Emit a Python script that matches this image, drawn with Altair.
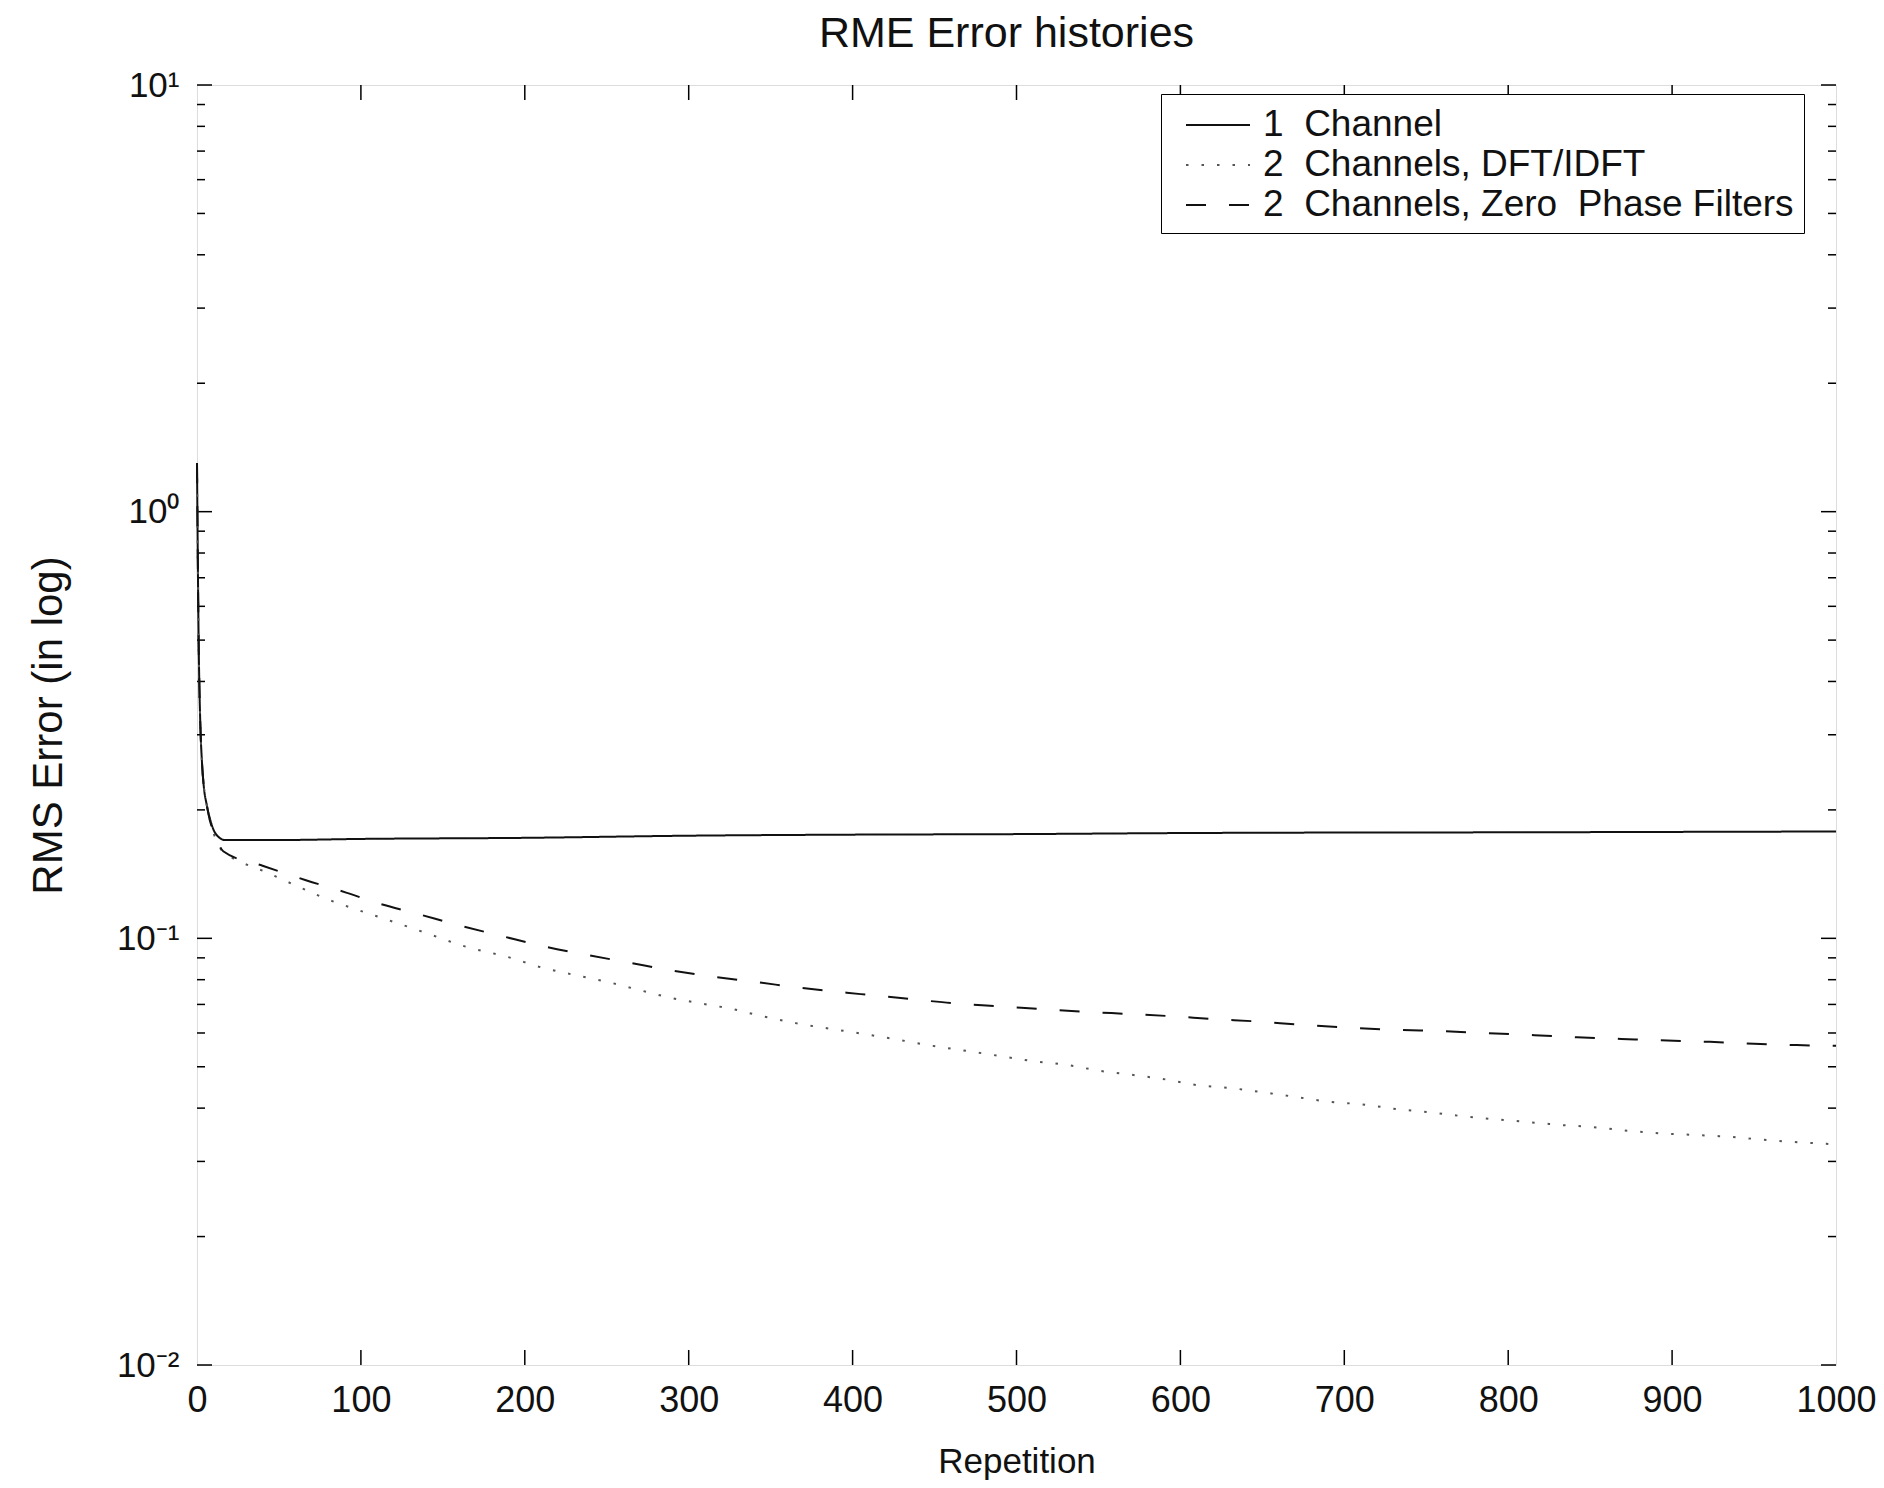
import altair as alt
import pandas as pd

title_text = "RME Error histories"
x_title = "Repetition"
y_title = "RMS Error (in log)"
series_names = [
    "1\u00a0 Channel",
    "2\u00a0 Channels, DFT/IDFT",
    "2\u00a0 Channels, Zero\u00a0 Phase Filters",
]

# 1 Channel
rep_one = [0, 1, 2, 3, 4, 6, 8, 10, 13, 17, 50, 100, 200, 300, 400, 500, 600, 700, 800, 900, 1000]
rms_one = [1.3, 0.5, 0.32, 0.26, 0.23, 0.205, 0.19, 0.18, 0.173, 0.170, 0.170, 0.171, 0.172,
           0.174, 0.175, 0.1755, 0.1765, 0.177, 0.1772, 0.1776, 0.178]

# 2 Channels, DFT/IDFT (dotted)
rep_dft = [0, 1, 2, 3, 4, 6, 8, 10, 13, 16, 22, 42, 61, 79, 98, 123, 143, 162, 191, 210, 230,
           250, 269, 288, 308, 328, 337, 366, 397, 423, 451, 472, 491, 511, 531, 551, 570, 591,
           610, 630, 650, 670, 691, 711, 732, 752, 772, 812, 833, 852, 873, 894, 914, 933, 965,
           994, 1000]
rms_dft = [1.3, 0.5, 0.32, 0.26, 0.23, 0.205, 0.188, 0.177, 0.166, 0.159, 0.154, 0.143, 0.1326,
           0.1237, 0.1166, 0.1083, 0.1019, 0.0961, 0.0901, 0.0855, 0.0821, 0.0791, 0.0758,
           0.0727, 0.0703, 0.0681, 0.0668, 0.0632, 0.0605, 0.0583, 0.0558, 0.0543, 0.0529,
           0.0515, 0.0505, 0.0489, 0.0479, 0.0467, 0.0453, 0.0446, 0.0436, 0.0425, 0.0414,
           0.0408, 0.0398, 0.0391, 0.0383, 0.0371, 0.0365, 0.0361, 0.0354, 0.0349, 0.0346,
           0.0343, 0.0335, 0.033, 0.0329]

# 2 Channels, Zero Phase Filters (dashed)
rep_zpf = [0, 1, 2, 3, 4, 6, 8, 10, 13, 16, 40, 66, 91, 110, 135, 161, 187, 212, 239, 265, 291,
           317, 343, 369, 405, 435, 462, 488, 515, 541, 568, 594, 620, 648, 672, 704, 735, 761,
           788, 816, 842, 869, 897, 923, 950, 976, 1000]
rms_zpf = [1.3, 0.5, 0.32, 0.26, 0.23, 0.205, 0.188, 0.178, 0.167, 0.160, 0.148, 0.137, 0.128,
           0.121, 0.114, 0.107, 0.101, 0.0957, 0.0913, 0.0875, 0.0839, 0.0811, 0.0788, 0.0765,
           0.074, 0.0721, 0.0704, 0.0693, 0.0683, 0.0673, 0.0665, 0.0657, 0.0647, 0.0638,
           0.0628, 0.0617, 0.061, 0.0606, 0.0599, 0.0593, 0.0586, 0.0581, 0.0576, 0.0572,
           0.0566, 0.0562, 0.056]

x_tick_values = [0, 100, 200, 300, 400, 500, 600, 700, 800, 900, 1000]
x_inner_ticks = [100, 200, 300, 400, 500, 600, 700, 800, 900]
y_major = [0.01, 0.1, 1, 10]
y_minor = [k * m for m in (0.01, 0.1, 1) for k in range(2, 10)]

W, H = 1639, 1280
FONT = "Liberation Sans"
INK = "#111111"

frames = []
for name, reps, vals in [(series_names[0], rep_one, rms_one),
                         (series_names[1], rep_dft, rms_dft),
                         (series_names[2], rep_zpf, rms_zpf)]:
    frames.append(pd.DataFrame({"rep": reps, "rms": vals, "series": name}))
df = pd.concat(frames, ignore_index=True)

xs = alt.Scale(domain=[0, 1000], nice=False, zero=False)
ys = alt.Scale(type="log", domain=[0.01, 10], nice=False)

ax_x = alt.Axis(values=x_tick_values, format="d", ticks=False, domain=False, grid=False,
                labelFlush=False, labelFontSize=36, labelFont=FONT, labelColor=INK,
                labelPadding=18,
                title=x_title, titleFontSize=35, titleFont=FONT, titleColor=INK,
                titleFontWeight="normal", titlePadding=26)
ax_y = alt.Axis(values=y_major, ticks=False, domain=False, grid=False,
                labelExpr="datum.value >= 5 ? '10¹' : datum.value >= 0.5 ? '10⁰' : datum.value >= 0.05 ? '10⁻¹' : '10⁻²'",
                labelFontSize=35, labelFont=FONT, labelColor=INK, labelPadding=18,
                title=y_title, titleFontSize=42, titleFont=FONT, titleColor=INK,
                titleFontWeight="normal", titlePadding=46)

x_enc = alt.X("rep:Q", scale=xs, axis=ax_x)
y_enc = alt.Y("rms:Q", scale=ys, axis=ax_y)

leg = alt.Legend(title=None, orient="none", legendX=964, legendY=9,
                 symbolType="M-1.6,0L1.6,0", symbolSize=1600, symbolStrokeWidth=2,
                 symbolOffset=26, labelOffset=24, labelFontSize=37, labelFont=FONT,
                 labelColor=INK, labelLimit=900, rowPadding=1, padding=10,
                 strokeColor="black", fillColor="white",
                 symbolFillColor="transparent")

lines = alt.Chart(df).mark_line(interpolate="monotone", strokeWidth=2).encode(
    x=x_enc,
    y=y_enc,
    color=alt.Color("series:N", sort=series_names,
                    scale=alt.Scale(domain=series_names, range=[INK, "#555555", INK]),
                    legend=leg),
    strokeDash=alt.StrokeDash("series:N", sort=series_names,
                              scale=alt.Scale(domain=series_names,
                                              range=[[1, 0], [2.5, 13], [20, 23]]),
                              legend=leg),
)

xt = pd.DataFrame({"rep": x_inner_ticks})
ymaj = pd.DataFrame({"rms": y_major})
ymin = pd.DataFrame({"rms": y_minor})

rule = dict(color="black", strokeWidth=1.5)
x_bottom = alt.Chart(xt).mark_rule(**rule).encode(x=x_enc, y=alt.value(H), y2=alt.value(H - 15))
x_top = alt.Chart(xt).mark_rule(**rule).encode(x=x_enc, y=alt.value(0), y2=alt.value(15))
y_left_maj = alt.Chart(ymaj).mark_rule(**rule).encode(y=y_enc, x=alt.value(0), x2=alt.value(15))
y_right_maj = alt.Chart(ymaj).mark_rule(**rule).encode(y=y_enc, x=alt.value(W), x2=alt.value(W - 15))
y_left_min = alt.Chart(ymin).mark_rule(**rule).encode(y=y_enc, x=alt.value(0), x2=alt.value(8))
y_right_min = alt.Chart(ymin).mark_rule(**rule).encode(y=y_enc, x=alt.value(W), x2=alt.value(W - 8))

chart = alt.layer(
    x_bottom, x_top, y_left_maj, y_right_maj, y_left_min, y_right_min, lines
).properties(
    width=W,
    height=H,
    title=alt.Title(title_text, fontSize=43, font=FONT, fontWeight="normal",
                    color=INK, anchor="middle", offset=12, dx=-10),
    autosize=alt.AutoSizeParams(type="none"),
    padding={"left": 189, "top": 77, "right": 40, "bottom": 115},
).configure_view(
    stroke="black", strokeWidth=2
).configure_legend(
    strokeWidth=1.6
).configure(background="white")

chart.save("out.html", embed_options={"renderer": "svg", "actions": False})
